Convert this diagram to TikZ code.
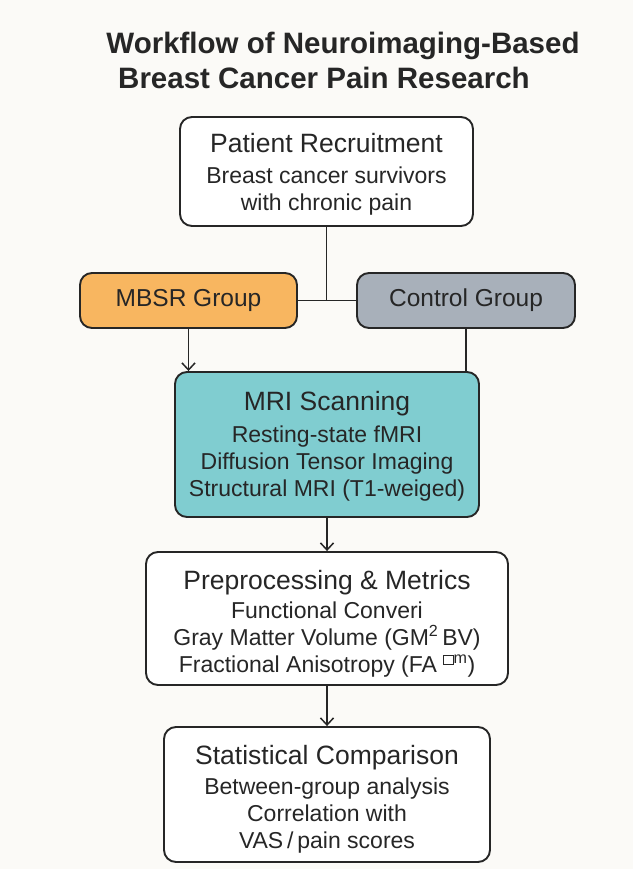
\documentclass[tikz,border=0pt]{standalone}
\usepackage{fontspec}
\setmainfont{Liberation Sans}
\usetikzlibrary{arrows.meta}
\definecolor{bg}{HTML}{FBFAF7}
\definecolor{ink}{HTML}{262626}
\definecolor{mbsrc}{HTML}{F8B660}
\definecolor{ctrlc}{HTML}{A8B0BA}
\definecolor{mric}{HTML}{80CDD0}
\newcommand{\btitle}[2]{{\fontsize{26.5}{30}\selectfont\rule{0pt}{#1pt}#2}}
\begin{document}
\begin{tikzpicture}[x=1pt,y=-1pt,
  box/.style={draw=ink, line width=1.9pt, rounded corners=12pt, align=center,
    text=ink, inner sep=0pt, fill=white, font=\fontsize{23}{27}\selectfont},
  conn/.style={draw=ink, line width=1.9pt},
  arr/.style={conn, -{Straight Barb[length=7pt,width=13pt,line width=1.5pt]}},
  ttl/.style={text=ink, font=\fontsize{29.5}{32}\selectfont\bfseries, anchor=base, inner sep=0pt}]
\fill[bg] (0,0) rectangle (633,869);
\useasboundingbox (0,0) rectangle (633,869);

\node[ttl] (t1) at (343,54) {Workflow of Neuroimaging-Based};
\node[ttl] (t2) at (324,89) {Breast Cancer Pain Research};

\node[box, minimum width=293pt, minimum height=109pt] (pr) at (326.5,171.5)
  {\btitle{24.5}{Patient Recruitment}\\[4pt] Breast cancer survivors\\ with chronic pain};

\node[box, fill=mbsrc, minimum width=217pt, minimum height=55pt, font=\fontsize{24.5}{28}\selectfont] (mbsr) at (188.5,300.5) {MBSR Group};
\node[box, fill=ctrlc, minimum width=218pt, minimum height=55pt, font=\fontsize{24.5}{28}\selectfont] (ctrl) at (466,300.5) {Control Group};

\node[box, fill=mric, minimum width=304pt, minimum height=145pt] (mri) at (327,444.5)
  {\btitle{22.5}{MRI Scanning}\\[5pt] Resting-state fMRI\\ Diffusion Tensor Imaging\\ Structural MRI (T1-weiged)};

\node[box, minimum width=362pt, minimum height=133pt] (pre) at (327,618.5)
  {\btitle{30.5}{Preprocessing \& Metrics}\\[2pt] Functional Converi\\ Gray Matter Volume (GM\textsuperscript{2}\,BV)\\ Fractional Anisotropy (FA \textsuperscript{{\fboxsep=0pt\fboxrule=0.6pt\fbox{\phantom{n}}}m})};

\node[box, minimum width=326pt, minimum height=135pt] (stat) at (327,794.5)
  {\btitle{29.5}{Statistical Comparison}\\[3pt] Between-group analysis\\ Correlation with\\ VAS\,/\,pain scores};

\coordinate (j) at (pr.south |- mbsr.east);
\draw[conn] (pr.south) -- (j);
\draw[conn] (mbsr.east) -- (ctrl.west);
\draw[arr] (mbsr.south) -- (mbsr.south |- mri.north);
\draw[conn] (ctrl.south) -- (ctrl.south |- mri.north);
\draw[arr] (mri.south) -- (pre.north);
\draw[arr] (pre.south) -- (stat.north);
\end{tikzpicture}
\end{document}
